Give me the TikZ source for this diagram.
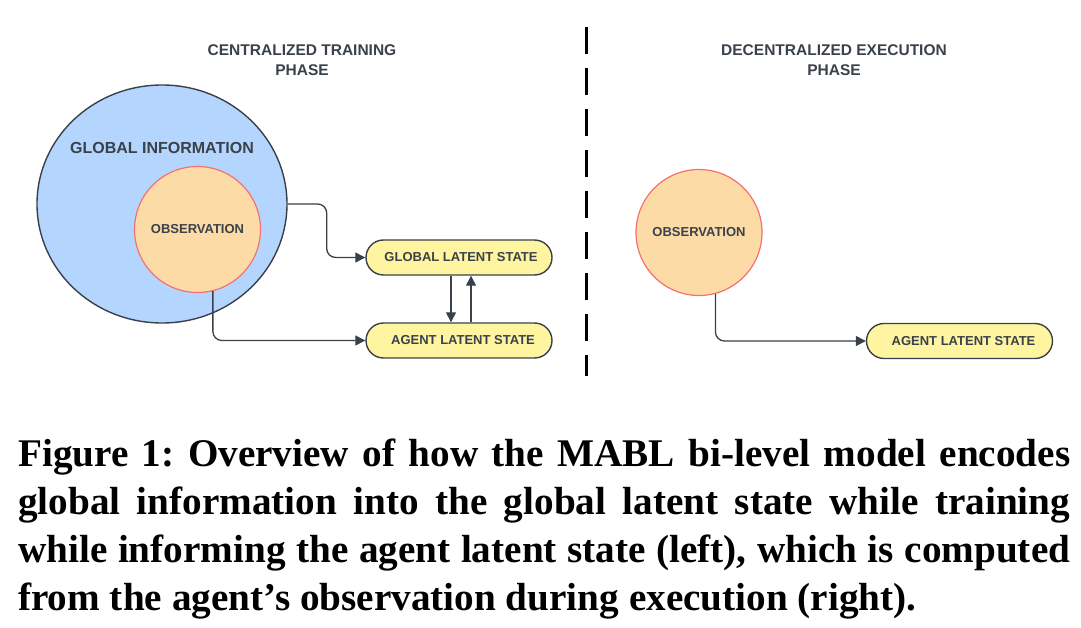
\documentclass[tikz,border=0pt]{standalone}
\usepackage{fontspec}
\setmainfont{Liberation Serif}
\setsansfont{Liberation Sans}
\usetikzlibrary{arrows.meta,shapes.geometric,shapes.misc}
\frenchspacing

\definecolor{ink}{RGB}{58,65,74}
\definecolor{globfill}{RGB}{180,213,253}
\definecolor{obsfill}{RGB}{253,219,166}
\definecolor{obsline}{RGB}{245,112,112}
\definecolor{latfill}{RGB}{255,244,160}

\tikzset{
	phase/.style={font=\sffamily\bfseries\fontsize{15.5}{20}\selectfont, text=ink, align=center},
	obsblob/.style={circle, draw=obsline, fill=obsfill, line width=1.2pt, minimum size=126pt, inner sep=0pt,
		font=\sffamily\bfseries\fontsize{13}{15}\selectfont, text=ink},
	latent/.style={rounded rectangle, draw=ink, fill=latfill, line width=1.4pt, minimum width=186pt,
		minimum height=35pt, inner sep=0pt, font=\sffamily\bfseries\fontsize{13}{15}\selectfont, text=ink},
	flow/.style={draw=ink, line width=1.3pt, rounded corners=9pt, -{Triangle[length=10pt,width=10pt]}},
}

\begin{document}
\begin{tikzpicture}[x=1pt, y=-1pt]
			%%%%% START %%%%%
			\useasboundingbox (0,0) rectangle (1081,628);
			
			% headings and split
			\node[phase] (trainhead) at (302,60) {CENTRALIZED TRAINING\\PHASE};
			\node[phase] (exechead) at (834,60) {DECENTRALIZED EXECUTION\\PHASE};
			\draw[line width=3pt, dash pattern=on 27pt off 14pt] (586,27) -- (586,376);
			
			% left: training
			\node[ellipse, draw=ink, fill=globfill, line width=1.4pt, minimum width=250pt, minimum height=238pt] (glob) at (162,204) {};
			\node[font=\sffamily\bfseries\fontsize{16}{18}\selectfont, text=ink] (globtxt) at (162,148) {GLOBAL INFORMATION};
			\node[obsblob] (obsL) at (197.5,229.5) {OBSERVATION};
			
			\node[latent] (glsL) at (459,257.5) {\hspace*{4pt}GLOBAL LATENT STATE};
			\node[latent] (alsL) at (459,340.5) {\hspace*{8pt}AGENT LATENT STATE};
			
			\draw[flow] (glob.east) -- ++(39,0) |- (glsL.west);
			\draw[flow] (obsL.-76) |- (alsL.west);
			\draw[flow] ([xshift=-8pt]glsL.south) -- ([xshift=-8pt]alsL.north);
			\draw[flow] ([xshift=12pt]alsL.north) -- ([xshift=12pt]glsL.south);
			
			% right: execution
			\node[obsblob] (obsR) at (699,232.5) {OBSERVATION};
			\node[latent] (alsR) at (959.5,341) {\hspace*{8pt}AGENT LATENT STATE};
			\draw[flow] (obsR.-75) |- (alsR.west);
			
			% caption
			\node[anchor=base west, inner sep=0pt, text width=1052pt, align=justify,
				font=\bfseries\fontsize{39.2}{48}\selectfont] (caption) at (18,466)
				{Figure 1: Overview of how the MABL bi-level model encodes\linebreak
				global information into the global latent state while training\linebreak
				while informing the agent latent state (left), which is computed\linebreak
				from the agent’s observation during execution (right).};
			%%%%% END %%%%%
\end{tikzpicture}
\end{document}
